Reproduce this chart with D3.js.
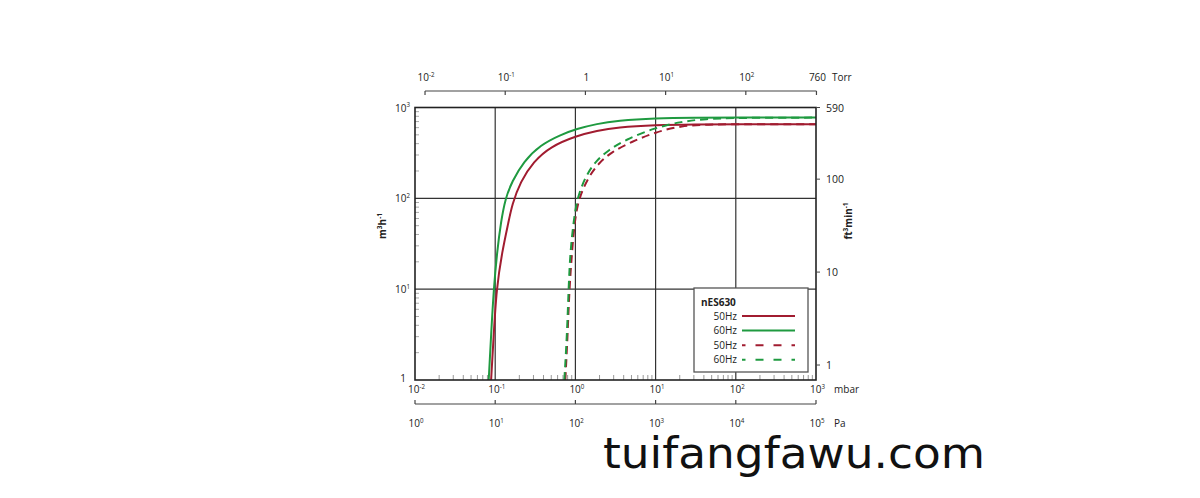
<!DOCTYPE html>
<html><head><meta charset="utf-8">
<script src="https://cdn.jsdelivr.net/npm/d3@7"></script>
<style>
html,body{margin:0;padding:0;background:#fff;}
svg{display:block;}
text{font-family:"Open Sans","Liberation Sans",sans-serif;fill:#222;}
</style></head>
<body><svg id="c" width="1200" height="498"></svg>
<script>
// ---- data (pressure in mbar, pumping speed in m3/h) ----
const solid60P = [0.083, 0.0889, 0.0958, 0.1056, 0.118, 0.134, 0.162, 0.226, 0.366, 0.649, 1.03, 1.86, 3.3, 10, 30, 100, 1000];
const solid60Q = [1, 3.13, 10, 25.9, 55.4, 100, 153, 254, 387, 499, 581, 662, 715, 762, 772, 774, 774];
const solid50P = [0.0889, 0.0958, 0.1035, 0.122, 0.147, 0.162, 0.206, 0.301, 0.487, 1.03, 1.86, 3.3, 10, 30, 100, 1000];
const solid50Q = [1, 3.13, 10, 25.9, 55.4, 84.6, 153, 254, 371, 488, 555, 605, 643, 653, 655, 655];
const dash60P = [0.728, 0.786, 0.822, 0.863, 0.95, 1.05, 1.33, 1.77, 2.59, 4.18, 9.87, 21.2, 41.4, 100, 1000];
const dash60Q = [1, 3.13, 10, 25.9, 55.4, 100, 173, 254, 341, 440, 601, 700, 750, 770, 774];
const dash50P = [0.749, 0.8, 0.84, 0.908, 0.977, 1.1, 1.46, 1.95, 2.86, 5.07, 9.87, 21.2, 45.6, 100, 1000];
const dash50Q = [1, 3.13, 10, 25.9, 55.4, 100, 173, 244, 327, 421, 534, 632, 650, 655, 655];

const mbarTicks = [1e-2, 1e-1, 1, 10, 100, 1000];
const mbarLabels = [["10","-2"],["10","-1"],["10","0"],["10","1"],["10","2"],["10","3"]];
const paTicks = [1, 10, 100, 1e3, 1e4, 1e5];
const paLabels = [["10","0"],["10","1"],["10","2"],["10","3"],["10","4"],["10","5"]];
const torrTicks = [0.01, 0.1, 1, 10, 100, 760];
const torrLabels = [["10","-2"],["10","-1"],["1",""],["10","1"],["10","2"],["760",""]];
const m3hTicks = [1, 10, 100, 1000];
const m3hLabels = [["1",""],["10","1"],["10","2"],["10","3"]];
const cfmTicks = [1, 10, 100, 590];
const cfmLabels = ["1", "10", "100", "590"];
const legendTitle = "nES630";
const legendLabels = ["50Hz", "60Hz", "50Hz", "60Hz"];

const RED = "#a11c30", GREEN = "#1f9a40";
const series = [
  {p: solid50P, q: solid50Q, color: RED, dash: null},
  {p: solid60P, q: solid60Q, color: GREEN, dash: null},
  {p: dash50P, q: dash50Q, color: RED, dash: "8,5"},
  {p: dash60P, q: dash60Q, color: GREEN, dash: "8,5"}
];

// ---- layout ----
const L = 415, R = 816, T = 107.5, B = 380;
const svg = d3.select("#c");
const x = d3.scaleLog().domain([1e-2, 1e3]).range([L, R]);
const y = d3.scaleLog().domain([1, 1e3]).range([B, T]);
const yR = d3.scaleLog().domain([0.69, 590]).range([B, T]);
const TORR = 1.33322;
const xT = d3.scaleLog().domain([1e-2 / TORR, 1e3 / TORR]).range([L, R]);
const xP = d3.scaleLog().domain([1, 1e5]).range([L, R]);

function supText(sel, pair, fs) {
  sel.append("tspan").text(pair[0]);
  if (pair[1]) sel.append("tspan").attr("font-size", fs * 0.62).attr("dy", -fs * 0.42).text(pair[1]);
}

// minor ticks
const minors = [];
for (let d = -2; d < 3; d++) for (let k = 2; k < 10; k++) minors.push(k * Math.pow(10, d));
svg.append("g").selectAll("line").data(minors).join("line")
  .attr("x1", d => x(d)).attr("x2", d => x(d)).attr("y1", B).attr("y2", B - 5)
  .attr("stroke", "#999").attr("stroke-width", 1);
const yMinors = [];
for (let d = 0; d < 3; d++) for (let k = 2; k < 10; k++) yMinors.push(k * Math.pow(10, d));
svg.append("g").selectAll("line").data(yMinors).join("line")
  .attr("x1", L).attr("x2", L + 4).attr("y1", d => y(d)).attr("y2", d => y(d))
  .attr("stroke", "#aaa").attr("stroke-width", 1);

// grid
svg.append("g").selectAll("line").data([0.1, 1, 10, 100]).join("line")
  .attr("x1", d => x(d)).attr("x2", d => x(d)).attr("y1", T).attr("y2", B)
  .attr("stroke", "#333").attr("stroke-width", 1.2);
svg.append("g").selectAll("line").data([10, 100]).join("line")
  .attr("y1", d => y(d)).attr("y2", d => y(d)).attr("x1", L).attr("x2", R)
  .attr("stroke", "#333").attr("stroke-width", 1.2);

// curves
svg.append("clipPath").attr("id", "pc").append("rect")
  .attr("x", L).attr("y", T).attr("width", R - L).attr("height", B - T);
const line = d3.line().x(d => x(d[0])).y(d => y(d[1])).curve(d3.curveBasis);
const cg = svg.append("g").attr("clip-path", "url(#pc)");
series.forEach(s => {
  cg.append("path").datum(s.p.map((p, i) => [p, s.q[i]]))
    .attr("d", line).attr("fill", "none").attr("stroke", s.color)
    .attr("stroke-width", 2).attr("stroke-dasharray", s.dash);
});

// border
svg.append("rect").attr("x", L).attr("y", T).attr("width", R - L).attr("height", B - T)
  .attr("fill", "none").attr("stroke", "#222").attr("stroke-width", 1.6);

// left axis labels
const FS = 10;
m3hTicks.forEach((t, i) => {
  const tx = svg.append("text").attr("x", t === 1 ? 406 : 410).attr("y", y(t) + (t === 1 ? 2 : 4))
    .attr("text-anchor", "end").attr("font-size", FS);
  supText(tx, m3hLabels[i], FS);
});
// right axis
svg.append("g").selectAll("line").data(cfmTicks).join("line")
  .attr("x1", R).attr("x2", R + 4).attr("y1", d => yR(d)).attr("y2", d => yR(d))
  .attr("stroke", "#444").attr("stroke-width", 1);
svg.append("g").selectAll("text").data(cfmTicks).join("text")
  .attr("x", 826).attr("y", d => yR(d) + 4).attr("font-size", 10.5)
  .text((d, i) => cfmLabels[i]);

// bottom mbar labels
mbarTicks.forEach((t, i) => {
  const tx = svg.append("text").attr("x", x(t) + 1.5).attr("y", 393).attr("text-anchor", "middle").attr("font-size", FS);
  supText(tx, mbarLabels[i], FS);
});
svg.append("text").attr("x", 834).attr("y", 393).attr("font-size", FS).text("mbar");

// Pa bracket
const PY = 404;
svg.append("line").attr("x1", xP(1)).attr("x2", xP(1e5)).attr("y1", PY).attr("y2", PY).attr("stroke", "#444").attr("stroke-width", 1.2);
svg.append("g").selectAll("line").data(paTicks).join("line")
  .attr("x1", d => xP(d)).attr("x2", d => xP(d)).attr("y1", PY).attr("y2", PY - 4)
  .attr("stroke", "#444").attr("stroke-width", 1.2);
paTicks.forEach((t, i) => {
  const tx = svg.append("text").attr("x", xP(t) + 1).attr("y", 427).attr("text-anchor", "middle").attr("font-size", FS);
  supText(tx, paLabels[i], FS);
});
svg.append("text").attr("x", 834).attr("y", 427).attr("font-size", FS).text("Pa");

// Torr bracket
const TY = 91;
svg.append("line").attr("x1", xT(0.01)).attr("x2", xT(760)).attr("y1", TY).attr("y2", TY).attr("stroke", "#444").attr("stroke-width", 1.2);
svg.append("g").selectAll("line").data(torrTicks).join("line")
  .attr("x1", d => xT(d)).attr("x2", d => xT(d)).attr("y1", TY).attr("y2", TY + 4)
  .attr("stroke", "#444").attr("stroke-width", 1.2);
torrTicks.forEach((t, i) => {
  const tx = svg.append("text").attr("x", xT(t) + 1).attr("y", 81).attr("text-anchor", "middle").attr("font-size", FS);
  supText(tx, torrLabels[i], FS);
});
svg.append("text").attr("x", 832).attr("y", 81).attr("font-size", FS).text("Torr");

// axis titles
const lt = svg.append("text").attr("transform", "translate(386,226) rotate(-90)")
  .attr("text-anchor", "middle").attr("font-size", 10).attr("font-weight", "bold");
lt.append("tspan").text("m");
lt.append("tspan").attr("font-size", 6.5).attr("dy", -4).text("3");
lt.append("tspan").attr("dy", 4).text("h");
lt.append("tspan").attr("font-size", 6.5).attr("dy", -4).text("-1");
const rt = svg.append("text").attr("transform", "translate(852,221) rotate(-90)")
  .attr("text-anchor", "middle").attr("font-size", 10).attr("font-weight", "bold");
rt.append("tspan").text("ft");
rt.append("tspan").attr("font-size", 6.5).attr("dy", -4).text("3");
rt.append("tspan").attr("dy", 4).text("min");
rt.append("tspan").attr("font-size", 6.5).attr("dy", -4).text("-1");

// legend
const lg = svg.append("g");
lg.append("rect").attr("x", 694).attr("y", 288).attr("width", 114).attr("height", 84)
  .attr("fill", "#fff").attr("stroke", "#555").attr("stroke-width", 1.3);
lg.append("text").attr("x", 701).attr("y", 306).attr("font-size", 10).attr("font-weight", "bold").text(legendTitle);
legendLabels.forEach((lab, i) => {
  const ly = 316 + i * 14.6;
  lg.append("text").attr("x", 737).attr("y", ly + 3.5).attr("text-anchor", "end").attr("font-size", 10).text(lab);
  lg.append("line").attr("x1", 742).attr("x2", 795).attr("y1", ly).attr("y2", ly)
    .attr("stroke", series[i].color).attr("stroke-width", 2)
    .attr("stroke-dasharray", series[i].dash ? "8,10" : null)
    .attr("stroke-dashoffset", series[i].dash ? 4.5 : null);
});

// watermark
svg.append("text").attr("x", 603).attr("y", 468).attr("font-size", 43)
  .attr("textLength", 382).attr("lengthAdjust", "spacingAndGlyphs")
  .style("font-family", "'DejaVu Sans',sans-serif").style("fill", "#111")
  .text("tuifangfawu.com");
</script></body></html>
